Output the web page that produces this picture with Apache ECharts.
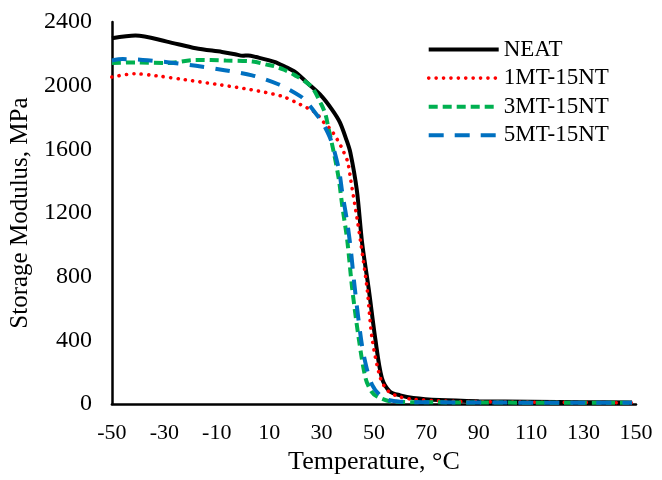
<!DOCTYPE html>
<html>
<head>
<meta charset="utf-8">
<script src="https://cdn.jsdelivr.net/npm/echarts@6/dist/echarts.min.js"></script>
<style>html,body{margin:0;padding:0;background:#fff}#c{width:662px;height:480px}</style>
</head>
<body>
<div id="c"></div>
<script>
var seriesNames = ['NEAT', '1MT-15NT', '3MT-15NT', '5MT-15NT'];
var xTicks = [-50, -30, -10, 10, 30, 50, 70, 90, 110, 130, 150];
var yTicks = [0, 400, 800, 1200, 1600, 2000, 2400];

var neatT = [-50, -41, -29, -18, -8, -3, 0, 2, 5, 12, 16, 20, 24.6, 30, 34, 37, 39.5, 41, 43.5, 45.5, 48, 50.5, 53, 56, 60, 65, 75, 90, 110, 130, 148.5];
var neatV = [2298, 2315, 2277, 2235, 2212, 2198, 2188, 2190, 2180, 2150, 2120, 2085, 2017, 1935, 1850, 1770, 1660, 1580, 1340, 1010, 725, 412, 165, 80, 55, 38, 25, 18, 15, 12, 10];

var mt1T = [-50, -41.4, -33, -22, -9, 3, 15, 22, 25, 28, 31, 33.5, 36, 38, 40, 41.1, 43.6, 45, 47.4, 49.3, 52.5, 55.6, 60, 65, 75, 90, 110, 130, 148.5];
var mt1V = [2054, 2075, 2062, 2037, 2006, 1975, 1933, 1881, 1856, 1826, 1767, 1725, 1662, 1600, 1520, 1412, 1162, 1010, 725, 412, 162, 79, 45, 30, 20, 15, 12, 10, 8];

var mt3T = [-50, -41, -29, -18, -6.5, 3.7, 9.4, 12, 15.7, 19.5, 26, 30, 31.5, 32.5, 34.7, 36.6, 37.9, 39.8, 41.7, 44.2, 46.8, 49, 51.2, 56.3, 65, 75, 90, 110, 130, 148.5];
var mt3V = [2142, 2146, 2142, 2162, 2158, 2152, 2131, 2122, 2100, 2069, 1996, 1880, 1820, 1745, 1579, 1412, 1246, 1030, 725, 412, 162, 80, 48, 17, 12, 11, 10, 9, 8, 8];

var mt5T = [-50, -45.8, -38.2, -28.1, -17.9, -7, 3.5, 13.5, 22, 24.6, 29, 30, 33.5, 36.6, 37.9, 39.8, 41.1, 42.3, 44.2, 46.1, 49.3, 53.8, 60, 75, 90, 110, 130, 148.5];
var mt5V = [2158, 2167, 2162, 2146, 2125, 2097, 2065, 2009, 1933, 1892, 1800, 1780, 1662, 1475, 1329, 1142, 980, 787, 517, 308, 121, 37, 15, 11, 10, 9, 8, 8];

function pairs(t, v) { return t.map(function (x, i) { return [x, v[i]]; }); }

var FONT = '"Liberation Serif", "Times New Roman", serif';
var chart = echarts.init(document.getElementById('c'), null, { renderer: 'canvas' });

function mk(name, t, v, color, width, type, cap) {
  return {
    name: name, type: 'line', data: pairs(t, v), showSymbol: false, symbol: 'none',
    smooth: 0.3,
    lineStyle: { color: color, width: width, type: type, cap: cap || 'butt' },
    itemStyle: { color: color },
    emphasis: { disabled: true }, animation: false
  };
}

chart.setOption({
  animation: false,
  grid: { left: 110.7, right: 26, top: 22, bottom: 74, containLabel: false },
  legend: {
    orient: 'vertical', left: 421.7, top: 33, padding: 5,
    itemWidth: 70, itemHeight: 14, itemGap: 5.6,
    itemStyle: { opacity: 0 },
    lineStyle: { width: 'inherit', type: 'inherit', cap: 'inherit' },
    textStyle: { fontFamily: FONT, fontSize: 23, color: '#000', lineHeight: 23 },
    data: seriesNames
  },
  xAxis: {
    type: 'value', min: -50, max: 150, interval: 20,
    name: 'Temperature, °C', nameLocation: 'middle', nameGap: 36,
    nameTextStyle: { fontFamily: FONT, fontSize: 26, color: '#000' },
    axisLine: { show: true, onZero: false, lineStyle: { color: '#000', width: 2.5 } },
    axisTick: { show: false },
    splitLine: { show: false },
    axisLabel: { fontFamily: FONT, fontSize: 22, color: '#000', margin: 18,
      formatter: function (v) { return xTicks.indexOf(v) >= 0 ? String(v) : ''; } }
  },
  yAxis: {
    type: 'value', min: 0, max: 2400, interval: 400,
    name: 'Storage Modulus, MPa', nameLocation: 'middle', nameGap: 74,
    nameTextStyle: { fontFamily: FONT, fontSize: 25, color: '#000' },
    axisLine: { show: true, onZero: false, lineStyle: { color: '#000', width: 2.5 } },
    axisTick: { show: false },
    splitLine: { show: false },
    axisLabel: { fontFamily: FONT, fontSize: 24, color: '#000', margin: 20,
      formatter: function (v) { return yTicks.indexOf(v) >= 0 ? String(v) : ''; } }
  },
  series: [
    mk(seriesNames[0], neatT, neatV, '#000000', 4, 'solid'),
    mk(seriesNames[1], mt1T, mt1V, '#FF0000', 3.6, [0.1, 7.3], 'round'),
    mk(seriesNames[2], mt3T, mt3V, '#00B050', 4, [9, 5]),
    mk(seriesNames[3], mt5T, mt5V, '#0070C0', 4, [15, 11])
  ]
});
</script>
</body>
</html>
